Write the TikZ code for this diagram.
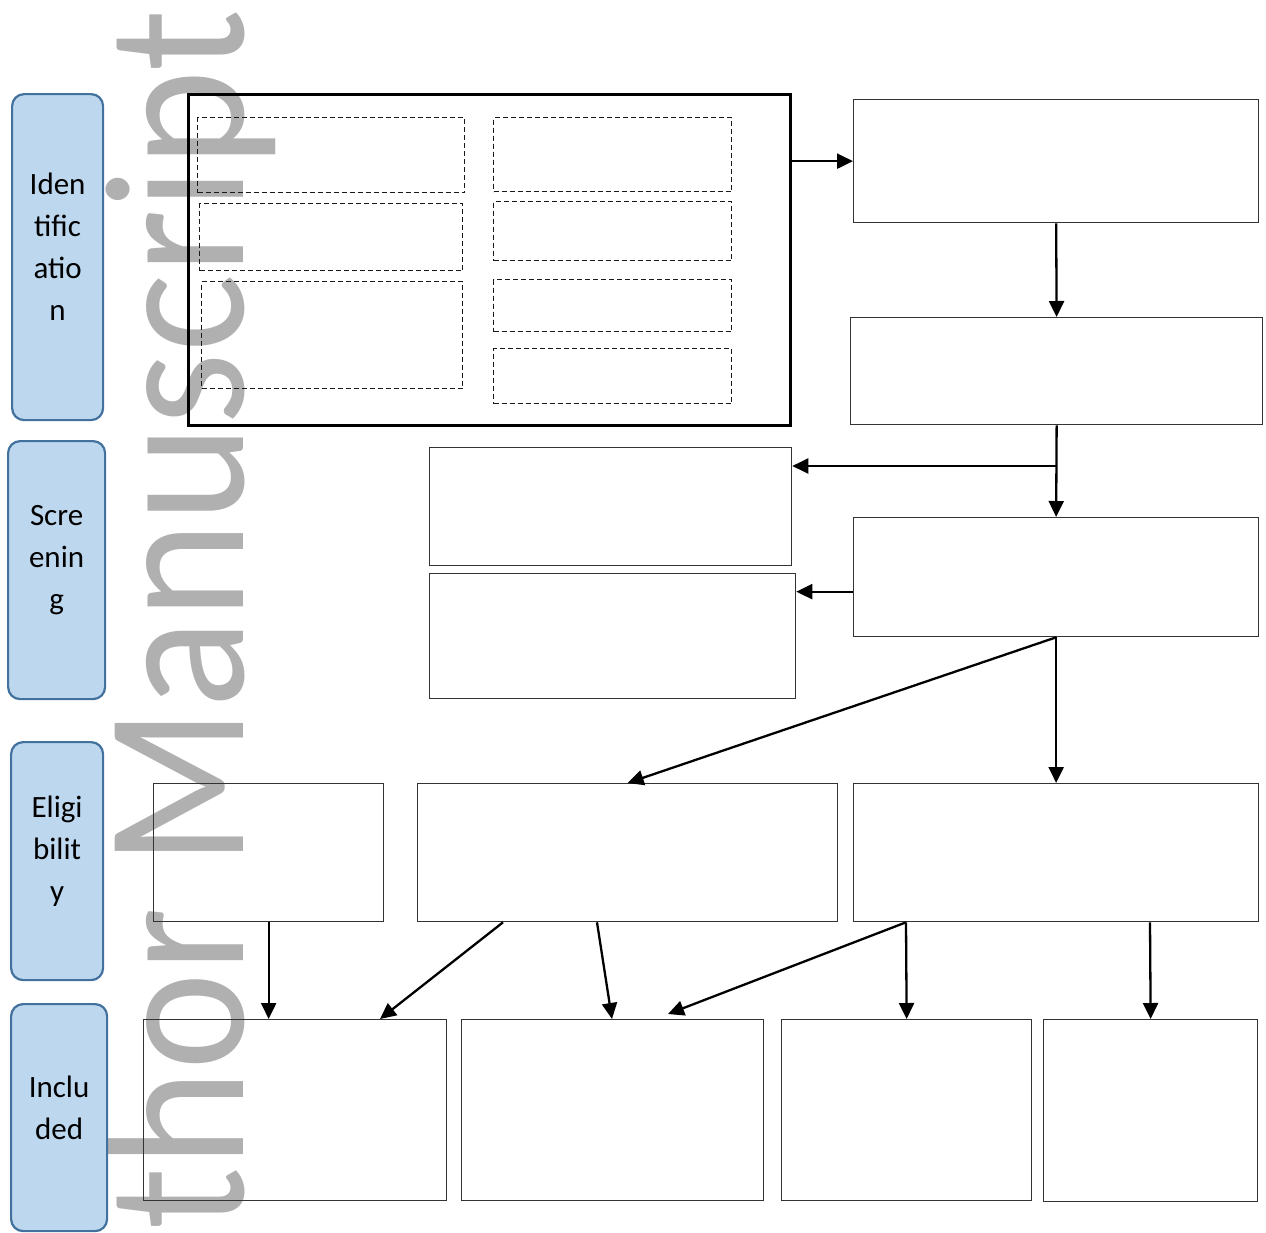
\documentclass[tikz,border=0pt]{standalone}
\usepackage{fontspec}
\setmainfont{Carlito}
\usetikzlibrary{arrows.meta}
\definecolor{stagefill}{RGB}{189,215,238}
\definecolor{stageline}{RGB}{65,113,156}
\definecolor{wmark}{RGB}{176,176,176}

\begin{document}
\begin{tikzpicture}[x=1pt, y=-1pt,
  box/.style={draw=black!80, line width=1.3pt, inner sep=0pt, anchor=north west},
  dbox/.style={draw=black!90, dash pattern=on 5pt off 3pt, line width=1.1pt, inner sep=0pt, anchor=north west},
  stage/.style={draw=stageline, fill=stagefill, line width=2.2pt, rounded corners=12pt, inner sep=0pt, anchor=north west},
  stagetext/.style={align=center, inner sep=0pt, yshift=10pt, font=\fontsize{31}{42}\selectfont},
  arr/.style={-{Triangle[length=16pt,width=15pt]}, line width=2.3pt}]

    \useasboundingbox (0,0) rectangle (1266,1232);

    \node[rotate=90, anchor=base east, text=wmark, inner sep=0pt, font=\fontsize{200}{200}\selectfont] (wm) at (243,9) {\scalebox{0.925}[1]{Author Manuscript}};

    \node[stage, minimum width=91pt, minimum height=326pt] (ident) at (11,93) {};
    \node[stage, minimum width=97pt, minimum height=258pt] (screen) at (7,440) {};
    \node[stage, minimum width=92pt, minimum height=238pt] (elig) at (10,741) {};
    \node[stage, minimum width=96pt, minimum height=227pt] (incl) at (10,1003) {};
    \node[stagetext] (identtxt) at (ident.center) {Iden\\tific\\atio\\n};
    \node[stagetext] (screentxt) at (screen.center) {Scre\\enin\\g};
    \node[stagetext] (eligtxt) at (elig.center) {Eligi\\bilit\\y};
    \node[stagetext] (incltxt) at (incl.center) {Inclu\\ded};

    \node[box, draw=black, line width=2.5pt, minimum width=602pt, minimum height=331pt] (search) at (187,93) {};
    \node[dbox, minimum width=267pt, minimum height=75pt] (d1) at (197,117) {};
    \node[dbox, minimum width=263pt, minimum height=67pt] (d2) at (199,203) {};
    \node[dbox, minimum width=261pt, minimum height=107pt] (d3) at (201,281) {};
    \node[dbox, minimum width=238pt, minimum height=74pt] (d4) at (493,117) {};
    \node[dbox, minimum width=238pt, minimum height=59pt] (d5) at (493,201) {};
    \node[dbox, minimum width=238pt, minimum height=52pt] (d6) at (493,279) {};
    \node[dbox, minimum width=238pt, minimum height=55pt] (d7) at (493,348) {};

    \node[box, minimum width=405pt, minimum height=123pt] (r1) at (853,99) {};
    \node[box, minimum width=412pt, minimum height=107pt] (r2) at (850,317) {};
    \node[box, minimum width=405pt, minimum height=119pt] (r3) at (853,517) {};
    \node[box, minimum width=362pt, minimum height=118pt] (m1) at (429,447) {};
    \node[box, minimum width=366pt, minimum height=125pt] (m2) at (429,573) {};

    \node[box, minimum width=230pt, minimum height=138pt] (e1) at (153,783) {};
    \node[box, minimum width=420pt, minimum height=138pt] (e2) at (417,783) {};
    \node[box, minimum width=405pt, minimum height=138pt] (e3) at (853,783) {};

    \node[box, minimum width=303pt, minimum height=181pt] (i1) at (143,1019) {};
    \node[box, minimum width=302pt, minimum height=181pt] (i2) at (461,1019) {};
    \node[box, minimum width=250pt, minimum height=181pt] (i3) at (781,1019) {};
    \node[box, minimum width=214pt, minimum height=182pt] (i4) at (1043,1019) {};

    \coordinate (split) at (1056,466);
    \coordinate (r3out) at ([yshift=-14.5pt]r3.west);

    \draw[arr] (search.east |- r1.west) -- (r1.west);
    \draw[arr] (r1.south) -- (r2.north);
    \draw[arr] (r2.south) -- (r3.north);
    \draw[arr] (split) -- (split -| m1.east);
    \draw[arr] (r3out) -- (r3out -| m2.east);
    \draw[arr] (r3.south) -- (r3.south |- e3.north);
    \draw[arr] (r3.south) -- (e2.north);
    \draw[arr] (e1.south) -- (e1.south |- i1.north);
    \draw[arr] ([xshift=86pt]e2.south west) -- ([xshift=237pt]i1.north west);
    \draw[arr] ([xshift=180pt]e2.south west) -- ([xshift=151pt]i2.north west);
    \draw[arr] ([xshift=53pt]e3.south west) -- ([xshift=207pt,yshift=5pt]i2.north west);
    \draw[arr] ([xshift=53pt]e3.south west) -- (i3.north);
    \draw[arr] ([xshift=297pt]e3.south west) -- (i4.north);
\end{tikzpicture}
\end{document}
